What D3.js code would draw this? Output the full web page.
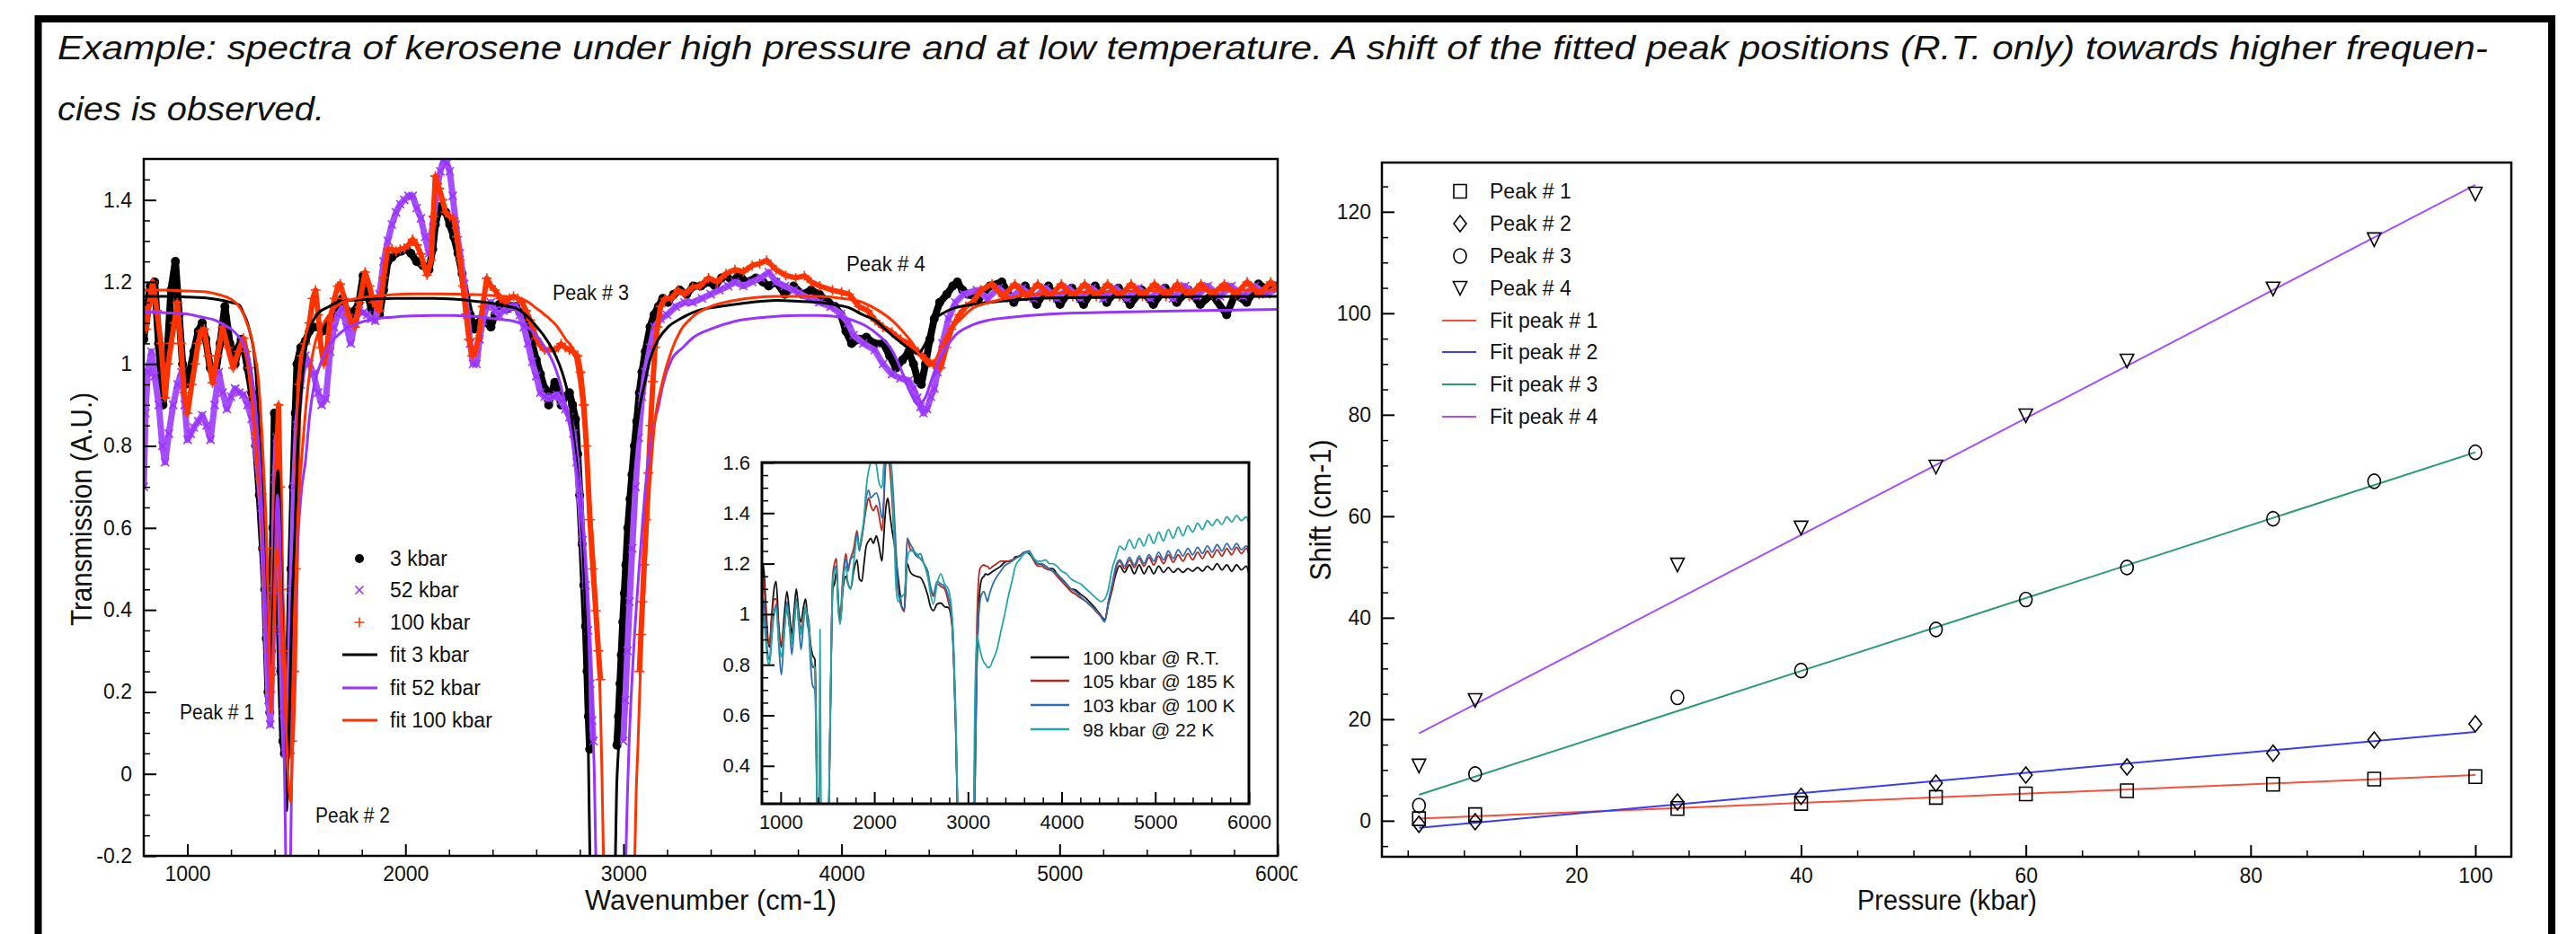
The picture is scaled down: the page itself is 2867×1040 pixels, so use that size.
<!DOCTYPE html>
<html><head><meta charset="utf-8">
<script src="https://cdn.jsdelivr.net/npm/d3@7"></script>
<style>
body{margin:0;background:#fff;}
svg text{font-family:"Liberation Sans",Arial,sans-serif;fill:#111;}
</style></head><body>
<svg id="c" width="2867" height="1040"></svg>
<script>
// ---------------- DATA ----------------
const titleLines = ["Example: spectra of kerosene under high pressure and at low temperature. A shift of the fitted peak positions (R.T. only) towards higher frequen-", "cies is observed."];

// Main spectrum: [wavenumber (cm-1), transmission (A.U.)]
const data3kbar = [[800,1.06],[812,1.12],[830,1.19],[850,1.20],[868,1.05],[888,0.90],[905,1.00],[925,1.18],[945,1.25],[962,1.12],[978,1.00],[992,0.95],[1010,0.98],[1030,1.03],[1050,1.08],[1068,1.10],[1085,1.06],[1105,0.99],[1125,0.96],[1150,1.05],[1172,1.14],[1195,1.05],[1219,1.00],[1235,1.04],[1247,1.06],[1262,1.03],[1276,0.99],[1295,0.93],[1314,0.80],[1330,0.68],[1345,0.55],[1355,0.45],[1362,0.33],[1370,0.20],[1378,0.15],[1385,0.30],[1392,0.60],[1399,0.88],[1408,0.70],[1418,0.45],[1428,0.25],[1438,0.08],[1445,0.05],[1455,0.10],[1465,0.25],[1475,0.50],[1485,0.70],[1495,0.88],[1503,1.00],[1520,1.04],[1541,1.056],[1560,1.08],[1578,1.09],[1600,1.09],[1620,1.08],[1635,1.085],[1655,1.11],[1673,1.13],[1690,1.15],[1711,1.16],[1730,1.13],[1749,1.11],[1768,1.13],[1787,1.15],[1806,1.215],[1825,1.17],[1844,1.135],[1862,1.125],[1881,1.12],[1900,1.18],[1919,1.25],[1938,1.26],[1957,1.27],[1980,1.275],[2004,1.28],[2025,1.27],[2051,1.25],[2080,1.24],[2108,1.23],[2125,1.28],[2137,1.34],[2150,1.37],[2165,1.385],[2185,1.37],[2203,1.34],[2222,1.31],[2241,1.27],[2260,1.22],[2278,1.165],[2297,1.12],[2316,1.085],[2335,1.10],[2354,1.115],[2373,1.10],[2392,1.09],[2410,1.12],[2430,1.145],[2450,1.14],[2468,1.135],[2487,1.14],[2506,1.14],[2525,1.125],[2543,1.105],[2562,1.08],[2581,1.05],[2600,1.01],[2619,0.975],[2638,0.94],[2657,0.90],[2670,0.93],[2685,0.955],[2700,0.93],[2714,0.90],[2733,0.92],[2752,0.93],[2766,0.90],[2780,0.865],[2790,0.78],[2799,0.68],[2810,0.56],[2818,0.46],[2826,0.36],[2833,0.25],[2839,0.14],[2845,0.06],null,[2970,0.07],[2977,0.14],[2984,0.22],[2990,0.29],[2997,0.37],[3004,0.44],[3011,0.51],[3020,0.60],[3030,0.67],[3039,0.73],[3050,0.80],[3061,0.86],[3073,0.93],[3085,0.98],[3100,1.03],[3122,1.09],[3140,1.12],[3160,1.14],[3180,1.16],[3204,1.15],[3230,1.17],[3258,1.18],[3290,1.17],[3320,1.19],[3356,1.19],[3390,1.20],[3420,1.19],[3450,1.21],[3472,1.215],[3500,1.20],[3530,1.22],[3560,1.20],[3608,1.21],[3640,1.20],[3666,1.19],[3700,1.20],[3740,1.17],[3780,1.19],[3820,1.17],[3860,1.18],[3898,1.17],[3940,1.15],[3970,1.14],[3997,1.12],[4020,1.08],[4046,1.05],[4080,1.06],[4114,1.065],[4150,1.05],[4192,1.05],[4220,1.02],[4250,0.99],[4280,1.01],[4308,1.03],[4330,1.00],[4350,0.96],[4366,0.95],[4385,1.00],[4405,1.06],[4425,1.11],[4450,1.15],[4483,1.17],[4510,1.19],[4531,1.20],[4555,1.18],[4580,1.17],[4630,1.16],[4680,1.19],[4735,1.20],[4790,1.15],[4842,1.19],[4895,1.145],[4949,1.19],[5002,1.145],[5056,1.185],[5110,1.145],[5163,1.19],[5216,1.15],[5270,1.185],[5323,1.145],[5377,1.18],[5430,1.145],[5484,1.185],[5537,1.15],[5591,1.18],[5645,1.145],[5698,1.17],[5766,1.12],[5805,1.17],[5858,1.15],[5912,1.195],[5960,1.18],[6000,1.19]];

const data52kbar = [[800,0.70],[808,0.88],[818,0.98],[835,1.03],[850,0.97],[869,0.90],[885,0.80],[898,0.76],[915,0.83],[935,0.90],[955,0.95],[973,0.98],[988,0.90],[1001,0.815],[1015,0.83],[1030,0.845],[1050,0.86],[1068,0.875],[1088,0.85],[1106,0.815],[1125,0.90],[1144,0.98],[1162,0.93],[1181,0.89],[1200,0.92],[1219,0.94],[1238,0.93],[1257,0.925],[1276,0.90],[1295,0.866],[1310,0.81],[1323,0.756],[1340,0.65],[1352,0.50],[1362,0.35],[1372,0.18],[1380,0.12],[1388,0.25],[1395,0.45],[1403,0.72],[1410,0.82],[1420,0.60],[1430,0.35],[1440,0.15],[1448,0.05],[1458,0.06],[1468,0.20],[1478,0.45],[1490,0.70],[1503,0.85],[1520,0.95],[1541,1.02],[1560,1.00],[1578,0.976],[1600,0.93],[1616,0.90],[1635,0.915],[1655,1.03],[1673,1.09],[1690,1.12],[1711,1.135],[1730,1.09],[1749,1.05],[1768,1.10],[1787,1.13],[1806,1.125],[1825,1.12],[1844,1.11],[1862,1.105],[1881,1.17],[1900,1.25],[1919,1.30],[1938,1.34],[1957,1.37],[1976,1.39],[1995,1.40],[2014,1.41],[2033,1.41],[2052,1.38],[2071,1.355],[2090,1.31],[2108,1.27],[2127,1.35],[2146,1.43],[2160,1.47],[2174,1.495],[2190,1.49],[2203,1.47],[2217,1.41],[2231,1.34],[2250,1.27],[2269,1.195],[2283,1.12],[2297,1.05],[2310,1.00],[2326,1.00],[2340,1.06],[2354,1.105],[2373,1.14],[2392,1.15],[2411,1.13],[2430,1.12],[2449,1.13],[2468,1.135],[2487,1.14],[2506,1.14],[2525,1.12],[2543,1.09],[2562,1.05],[2581,1.005],[2600,0.97],[2619,0.93],[2638,0.92],[2657,0.915],[2676,0.92],[2695,0.925],[2714,0.91],[2733,0.89],[2752,0.87],[2770,0.83],[2785,0.76],[2799,0.68],[2813,0.57],[2827,0.46],[2838,0.35],[2848,0.22],[2856,0.13],[2862,0.08],null,[2999,0.08],[3008,0.18],[3018,0.30],[3028,0.42],[3040,0.55],[3055,0.70],[3070,0.82],[3085,0.92],[3100,0.98],[3122,1.04],[3142,1.09],[3170,1.11],[3200,1.12],[3240,1.14],[3280,1.15],[3317,1.15],[3360,1.16],[3400,1.17],[3440,1.18],[3480,1.19],[3511,1.20],[3550,1.19],[3590,1.20],[3630,1.21],[3666,1.224],[3700,1.20],[3740,1.19],[3780,1.18],[3803,1.173],[3850,1.16],[3898,1.15],[3950,1.14],[3997,1.122],[4030,1.10],[4055,1.07],[4100,1.05],[4152,1.034],[4190,1.00],[4231,0.975],[4270,0.965],[4308,0.96],[4330,0.94],[4347,0.917],[4362,0.895],[4376,0.88],[4392,0.89],[4410,0.92],[4425,0.94],[4440,0.98],[4463,1.05],[4490,1.11],[4522,1.15],[4560,1.17],[4620,1.18],[4670,1.16],[4720,1.185],[4775,1.16],[4828,1.185],[4880,1.16],[4935,1.185],[4988,1.16],[5040,1.185],[5095,1.16],[5148,1.185],[5200,1.16],[5255,1.185],[5308,1.16],[5360,1.185],[5415,1.16],[5468,1.185],[5520,1.16],[5575,1.19],[5628,1.165],[5680,1.19],[5735,1.165],[5788,1.19],[5840,1.165],[5895,1.19],[5948,1.17],[6000,1.185]];

const data100kbar = [[800,1.14],[812,1.085],[826,1.15],[841,1.20],[860,1.13],[879,1.05],[898,0.917],[912,1.00],[926,1.05],[940,1.10],[954,1.15],[970,1.05],[985,0.93],[1001,0.88],[1020,0.95],[1035,1.00],[1049,1.05],[1063,1.08],[1077,1.085],[1096,1.02],[1115,0.954],[1138,1.02],[1162,1.09],[1185,1.04],[1210,0.99],[1233,1.03],[1257,1.063],[1271,1.03],[1285,0.99],[1300,0.92],[1314,0.83],[1330,0.72],[1342,0.683],[1352,0.55],[1362,0.42],[1372,0.30],[1380,0.20],[1390,0.35],[1400,0.55],[1410,0.75],[1418,0.90],[1425,0.70],[1432,0.45],[1440,0.30],[1450,0.15],[1460,0.08],[1470,0.05],[1480,0.08],[1490,0.25],[1498,0.50],[1505,0.75],[1512,0.95],[1525,1.02],[1541,1.049],[1560,1.10],[1575,1.16],[1588,1.18],[1600,1.12],[1613,1.04],[1626,1.00],[1640,1.04],[1654,1.107],[1675,1.16],[1690,1.19],[1701,1.195],[1720,1.16],[1739,1.12],[1754,1.10],[1768,1.09],[1790,1.15],[1815,1.224],[1835,1.19],[1853,1.15],[1868,1.14],[1881,1.13],[1900,1.21],[1919,1.28],[1938,1.28],[1957,1.275],[1976,1.28],[1995,1.282],[2014,1.29],[2033,1.304],[2052,1.29],[2071,1.268],[2085,1.24],[2099,1.217],[2118,1.253],[2128,1.36],[2137,1.458],[2146,1.44],[2155,1.428],[2170,1.40],[2184,1.37],[2203,1.36],[2222,1.355],[2236,1.31],[2250,1.253],[2264,1.19],[2278,1.122],[2292,1.06],[2307,1.02],[2320,1.03],[2335,1.063],[2354,1.14],[2373,1.209],[2392,1.19],[2411,1.18],[2435,1.16],[2458,1.151],[2477,1.16],[2496,1.165],[2515,1.16],[2534,1.151],[2553,1.13],[2572,1.107],[2586,1.085],[2600,1.063],[2619,1.045],[2638,1.034],[2660,1.035],[2685,1.034],[2700,1.04],[2714,1.049],[2733,1.04],[2752,1.034],[2770,1.03],[2789,1.02],[2803,0.98],[2818,0.90],[2830,0.80],[2846,0.62],[2860,0.50],[2873,0.398],[2885,0.30],[2894,0.23],null,[3073,0.25],[3080,0.34],[3087,0.42],[3094,0.51],[3104,0.62],[3114,0.734],[3124,0.85],[3135,0.957],[3145,1.04],[3156,1.09],[3170,1.14],[3190,1.159],[3220,1.16],[3250,1.18],[3280,1.17],[3317,1.187],[3350,1.19],[3390,1.21],[3430,1.20],[3470,1.22],[3511,1.23],[3550,1.225],[3590,1.24],[3625,1.245],[3657,1.253],[3700,1.23],[3744,1.216],[3790,1.21],[3830,1.215],[3861,1.20],[3900,1.19],[3958,1.18],[4000,1.175],[4035,1.17],[4080,1.14],[4120,1.13],[4154,1.106],[4190,1.09],[4231,1.077],[4270,1.06],[4308,1.05],[4350,1.03],[4385,1.012],[4420,1.00],[4455,0.99],[4480,1.04],[4503,1.085],[4540,1.12],[4570,1.14],[4600,1.15],[4640,1.18],[4690,1.195],[4740,1.165],[4795,1.195],[4848,1.165],[4900,1.195],[4955,1.165],[5008,1.195],[5060,1.165],[5115,1.195],[5168,1.165],[5220,1.195],[5275,1.165],[5328,1.195],[5380,1.165],[5435,1.195],[5488,1.165],[5540,1.195],[5595,1.165],[5648,1.195],[5700,1.17],[5755,1.195],[5808,1.17],[5860,1.20],[5915,1.17],[5968,1.20],[6000,1.185]];

const fit3kbar = [[800,1.165],[900,1.165],[1000,1.163],[1100,1.16],[1150,1.156],[1200,1.15],[1238,1.144],[1260,1.12],[1276,1.10],[1290,1.07],[1304,1.034],[1314,0.98],[1323,0.902],[1333,0.81],[1342,0.72],[1352,0.54],[1362,0.38],[1372,0.28],[1382,0.27],[1392,0.40],[1403,0.62],[1415,0.74],[1425,0.62],[1435,0.38],[1443,0.15],[1449,0.0],[1455,-0.09],[1461,0.0],[1468,0.15],[1478,0.38],[1493,0.58],[1505,0.78],[1520,0.92],[1541,1.03],[1560,1.08],[1597,1.122],[1650,1.14],[1692,1.151],[1770,1.156],[1844,1.158],[1950,1.16],[2033,1.16],[2130,1.16],[2222,1.158],[2320,1.153],[2411,1.147],[2470,1.14],[2506,1.136],[2550,1.12],[2600,1.092],[2640,1.065],[2676,1.034],[2705,1.0],[2733,0.954],[2755,0.9],[2770,0.83],[2785,0.76],[2799,0.683],[2812,0.58],[2825,0.40],[2834,0.22],[2839,0.05],[2843,-0.1],[2846,-0.2],[2850,-0.35],[2905,-1.0],[2960,-0.35],[2963,-0.2],[2968,-0.05],[2977,0.063],[2990,0.287],[3011,0.51],[3039,0.73],[3060,0.84],[3073,0.89],[3100,0.96],[3121,1.01],[3160,1.06],[3204,1.09],[3260,1.11],[3341,1.13],[3440,1.14],[3547,1.148],[3705,1.155],[3822,1.152],[3898,1.15],[3960,1.145],[4034,1.137],[4097,1.12],[4154,1.106],[4200,1.085],[4249,1.062],[4290,1.045],[4318,1.034],[4345,1.025],[4380,1.045],[4400,1.07],[4425,1.107],[4470,1.125],[4521,1.137],[4600,1.145],[4677,1.15],[4800,1.156],[4970,1.161],[5300,1.163],[5600,1.164],[6000,1.165]];

const fit52kbar = [[800,1.127],[900,1.125],[992,1.122],[1060,1.115],[1125,1.107],[1170,1.095],[1200,1.085],[1230,1.07],[1257,1.049],[1276,1.02],[1295,0.976],[1310,0.91],[1323,0.83],[1333,0.75],[1342,0.647],[1352,0.5],[1362,0.35],[1372,0.22],[1380,0.165],[1390,0.25],[1400,0.45],[1412,0.68],[1422,0.62],[1432,0.40],[1442,0.10],[1447,-0.05],[1452,-0.25],[1462,-0.6],[1472,-0.25],[1478,-0.02],[1488,0.25],[1497,0.43],[1507,0.57],[1525,0.70],[1541,0.76],[1560,0.87],[1578,0.939],[1610,1.00],[1654,1.049],[1700,1.075],[1749,1.092],[1840,1.108],[1938,1.114],[2030,1.117],[2127,1.118],[2220,1.118],[2316,1.116],[2410,1.11],[2506,1.103],[2560,1.09],[2600,1.07],[2640,1.04],[2676,1.005],[2700,0.97],[2733,0.902],[2764,0.82],[2780,0.756],[2795,0.70],[2805,0.64],[2820,0.56],[2832,0.44],[2845,0.30],[2853,0.22],[2860,0.1],[2866,0.006],[2873,-0.2],[2880,-0.4],[2940,-1.0],[3000,-0.4],[3011,-0.2],[3018,-0.05],[3025,0.063],[3045,0.287],[3073,0.51],[3107,0.734],[3135,0.84],[3162,0.9],[3181,0.95],[3220,1.01],[3272,1.04],[3317,1.063],[3400,1.085],[3511,1.104],[3650,1.114],[3803,1.118],[3900,1.118],[3997,1.114],[4060,1.105],[4114,1.092],[4170,1.07],[4231,1.034],[4270,0.99],[4308,0.939],[4330,0.915],[4347,0.902],[4365,0.905],[4386,0.92],[4415,0.965],[4444,1.005],[4480,1.04],[4522,1.07],[4600,1.095],[4677,1.107],[4800,1.115],[4970,1.122],[5300,1.127],[5600,1.13],[6000,1.133]];

const fit100kbar = [[800,1.18],[900,1.18],[1000,1.178],[1087,1.176],[1150,1.168],[1200,1.158],[1230,1.145],[1257,1.122],[1276,1.095],[1295,1.063],[1310,1.02],[1323,0.976],[1333,0.91],[1342,0.83],[1352,0.72],[1361,0.61],[1370,0.45],[1378,0.25],[1383,0.15],[1390,0.22],[1400,0.42],[1410,0.55],[1420,0.50],[1435,0.35],[1450,0.15],[1462,0.0],[1474,-0.07],[1485,0.15],[1495,0.40],[1503,0.574],[1512,0.68],[1522,0.756],[1541,0.88],[1560,0.976],[1590,1.06],[1616,1.092],[1650,1.12],[1692,1.144],[1760,1.158],[1844,1.165],[1940,1.169],[2033,1.171],[2150,1.171],[2316,1.169],[2420,1.166],[2506,1.162],[2560,1.152],[2600,1.136],[2650,1.115],[2695,1.092],[2735,1.06],[2770,1.034],[2791,0.98],[2810,0.90],[2827,0.80],[2846,0.66],[2866,0.51],[2877,0.40],[2887,0.287],[2895,0.15],[2901,0.006],[2908,-0.2],[2915,-0.4],[2980,-1.0],[3045,-0.4],[3052,-0.2],[3058,-0.05],[3066,0.063],[3080,0.287],[3101,0.51],[3120,0.70],[3142,0.85],[3176,0.95],[3219,1.03],[3260,1.08],[3317,1.115],[3400,1.14],[3511,1.155],[3705,1.165],[3900,1.165],[4000,1.16],[4096,1.15],[4170,1.13],[4232,1.106],[4280,1.08],[4327,1.049],[4360,1.02],[4385,1.005],[4403,0.995],[4420,1.00],[4440,1.02],[4463,1.05],[4500,1.085],[4541,1.106],[4600,1.135],[4677,1.15],[4800,1.165],[4970,1.172],[5300,1.177],[5600,1.18],[6000,1.18]];

const mainSeriesNames = ["3 kbar","52 kbar","100 kbar","fit 3 kbar","fit 52 kbar","fit 100 kbar"];
const mainXTicks = [1000,2000,3000,4000,5000,6000];
const mainYTicks = [-0.2,0,0.2,0.4,0.6,0.8,1,1.2,1.4];
const peakLabels = ["Peak # 1","Peak # 2","Peak # 3","Peak # 4"];

// Inset spectra (shared wavenumber grid)
const insetWn = [800,815,840,860,880,905,930,952,980,1007,1035,1067,1095,1119,1145,1167,1195,1218,1245,1266,1285,1300,1320,1340,1366,1385,1397,1410,1420,1430,1445,1500,1530,1556,1575,1596,1615,1636,1665,1696,1720,1747,1780,1815,1840,1867,1890,1914,1940,1962,1990,2022,2050,2082,2100,2114,2130,2145,2165,2190,2213,2233,2253,2275,2292,2320,2352,2380,2412,2450,2491,2530,2571,2600,2631,2670,2710,2750,2790,2830,2850,2870,2890,2920,3050,3076,3095,3108,3128,3148,3170,3190,3208,3230,3267,3310,3350,3387,3430,3470,3506,3550,3606,3650,3705,3745,3785,3830,3870,3904,3950,4000,4050,4100,4143,4200,4262,4320,4381,4420,4461,4500,4540,4580,4620,4672,4724,4776,4828,4880,4932,4984,5036,5088,5140,5192,5244,5296,5348,5400,5452,5504,5556,5608,5660,5712,5764,5816,5868,5920,5972,6000];
const insetRT   = [1.05,1.20,1.05,0.92,0.87,1.00,1.10,1.13,0.95,0.87,0.98,1.09,1.00,0.92,1.02,1.10,1.00,0.97,1.03,1.06,1.00,0.97,0.88,0.84,0.82,0.40,0.0,0.05,0.10,0.0,0.0,0.0,0.6,1.10,1.12,1.17,1.05,0.97,1.10,1.15,1.12,1.10,1.17,1.215,1.14,1.13,1.20,1.27,1.29,1.30,1.28,1.31,1.27,1.21,1.30,1.38,1.44,1.458,1.40,1.33,1.28,1.22,1.15,1.08,1.03,1.014,1.20,1.17,1.156,1.15,1.145,1.12,1.074,1.03,1.014,1.04,1.044,1.03,1.026,0.955,0.80,0.541,0.20,0.0,0.0,0.35,0.80,0.95,1.10,1.14,1.15,1.16,1.156,1.16,1.17,1.18,1.19,1.204,1.21,1.21,1.227,1.23,1.245,1.24,1.215,1.20,1.198,1.19,1.18,1.18,1.16,1.14,1.12,1.10,1.097,1.08,1.062,1.04,1.014,0.995,0.979,1.04,1.097,1.16,1.192,1.165,1.195,1.16,1.195,1.16,1.19,1.16,1.19,1.165,1.185,1.165,1.18,1.165,1.18,1.17,1.185,1.17,1.19,1.175,1.20,1.175,1.195,1.17,1.195,1.175,1.19,1.16];
const insetK185 = [1.00,1.15,1.00,0.90,0.88,0.98,1.06,1.06,0.95,0.88,0.95,1.02,0.95,0.90,0.98,1.05,0.98,0.94,1.00,1.02,0.98,0.96,0.85,0.79,0.79,0.35,0.0,0.05,0.10,0.0,0.0,0.0,0.6,1.15,1.20,1.22,1.05,1.00,1.15,1.24,1.18,1.22,1.26,1.33,1.26,1.30,1.36,1.42,1.46,1.43,1.41,1.43,1.39,1.33,1.42,1.55,1.62,1.63,1.58,1.45,1.30,1.18,1.10,1.05,1.03,1.01,1.30,1.26,1.25,1.23,1.22,1.20,1.15,1.10,1.07,1.12,1.11,1.10,1.05,0.97,0.80,0.55,0.20,0.0,0.0,0.50,0.95,1.10,1.18,1.19,1.195,1.19,1.19,1.18,1.19,1.20,1.21,1.21,1.21,1.215,1.22,1.23,1.245,1.245,1.21,1.19,1.19,1.18,1.175,1.17,1.15,1.13,1.11,1.09,1.08,1.065,1.05,1.03,1.005,0.99,0.975,1.05,1.10,1.18,1.21,1.18,1.215,1.185,1.22,1.19,1.225,1.195,1.23,1.20,1.235,1.205,1.235,1.21,1.24,1.215,1.245,1.22,1.25,1.225,1.255,1.23,1.26,1.235,1.265,1.24,1.26,1.235];
const insetK100 = [0.95,1.06,0.95,0.85,0.82,0.92,1.00,1.04,0.88,0.76,0.90,1.05,0.95,0.84,0.95,1.06,0.95,0.86,0.97,1.03,0.96,0.93,0.80,0.72,0.70,0.35,0.0,0.05,0.10,0.0,0.0,0.0,0.6,1.13,1.18,1.19,1.03,0.97,1.13,1.22,1.17,1.22,1.23,1.32,1.25,1.31,1.37,1.46,1.49,1.46,1.47,1.48,1.45,1.38,1.45,1.58,1.65,1.66,1.62,1.55,1.40,1.25,1.10,1.05,1.03,1.02,1.30,1.28,1.26,1.23,1.24,1.20,1.17,1.11,1.08,1.13,1.12,1.11,1.07,0.98,0.80,0.55,0.20,0.0,0.0,0.35,0.80,0.95,1.05,1.08,1.09,1.07,1.05,1.08,1.12,1.15,1.17,1.19,1.20,1.21,1.22,1.23,1.245,1.25,1.22,1.20,1.20,1.19,1.18,1.17,1.16,1.14,1.12,1.10,1.09,1.07,1.05,1.03,1.01,0.99,0.97,1.05,1.12,1.19,1.215,1.19,1.225,1.195,1.23,1.20,1.235,1.21,1.245,1.215,1.25,1.22,1.255,1.23,1.26,1.235,1.265,1.24,1.27,1.245,1.275,1.25,1.28,1.255,1.28,1.255,1.27,1.25];
const insetK22  = [0.92,1.00,0.90,0.82,0.80,0.90,1.02,1.02,0.90,0.83,0.92,1.03,0.95,0.88,0.97,1.05,0.97,0.92,0.99,1.03,0.98,0.96,0.85,0.80,0.79,0.30,0.0,0.2,0.94,0.3,0.0,0.0,0.6,1.13,1.17,1.18,1.02,0.96,1.12,1.19,1.12,1.10,1.20,1.30,1.27,1.32,1.38,1.50,1.57,1.60,1.62,1.59,1.52,1.50,1.58,1.65,1.70,1.70,1.66,1.50,1.30,1.10,1.05,1.06,1.07,1.08,1.22,1.25,1.25,1.24,1.22,1.20,1.15,1.08,1.04,1.12,1.16,1.12,1.10,1.00,0.85,0.60,0.25,0.0,0.0,0.70,0.92,0.90,0.86,0.83,0.81,0.80,0.79,0.79,0.82,0.86,0.93,0.99,1.07,1.13,1.19,1.215,1.24,1.245,1.22,1.21,1.21,1.215,1.20,1.20,1.19,1.17,1.16,1.14,1.13,1.12,1.10,1.08,1.06,1.05,1.06,1.10,1.18,1.227,1.269,1.255,1.295,1.26,1.30,1.27,1.315,1.28,1.325,1.29,1.335,1.30,1.345,1.31,1.35,1.325,1.36,1.335,1.37,1.35,1.375,1.355,1.385,1.365,1.39,1.37,1.385,1.36];
const insetNames = ["100 kbar @ R.T.","105 kbar @ 185 K","103 kbar @ 100 K","98 kbar @ 22 K"];
const insetXTicks = [1000,2000,3000,4000,5000,6000];
const insetYTicks = [0.4,0.6,0.8,1,1.2,1.4,1.6];

// Right chart: shift vs pressure
const pressure = [6,11,29,40,52,60,69,82,91,100];
const peak1 = [0.4,1.2,2.4,3.4,4.6,5.3,5.9,7.2,8.2,8.7];
const peak2 = [-0.7,-0.2,3.7,4.8,7.4,9.0,10.6,13.3,15.9,19.1];
const peak3 = [3.0,9.2,24.3,29.6,37.7,43.6,49.9,59.5,66.9,72.6];
const peak4 = [10.8,23.7,50.4,57.7,69.7,79.8,90.6,104.8,114.5,123.5];
const fitPressure = [6,100];
const fitPeak1 = [0.4,9.0];
const fitPeak2 = [-1.4,17.5];
const fitPeak3 = [5.1,72.6];
const fitPeak4 = [17.2,125.3];
const rightNames = ["Peak # 1","Peak # 2","Peak # 3","Peak # 4","Fit peak # 1","Fit peak # 2","Fit peak # 3","Fit peak # 4"];
const rightXTicks = [20,40,60,80,100];
const rightYTicks = [0,20,40,60,80,100,120];

// ---------------- DRAWING ----------------
const svg = d3.select("#c");
const FONT = '"Liberation Sans",Arial,sans-serif';
const C = {black:"#000", purple:"#9933ff", red:"#ff3300", rBlack:"#111", rRed:"#b5281c", rBlue:"#2f6db5", rTeal:"#22a6a6",
  f1:"#f4503c", f2:"#3c3cf5", f3:"#2a9d6e", f4:"#a64dff"};

function txt(g, s, x, y, size, opt={}) {
  const t = g.append("text").attr("x",x).attr("y",y).attr("font-size",size).text(s);
  if (opt.anchor) t.attr("text-anchor",opt.anchor);
  if (opt.italic) t.attr("font-style","italic");
  if (opt.len) t.attr("textLength",opt.len).attr("lengthAdjust","spacingAndGlyphs");
  if (opt.rot) t.attr("transform",`rotate(-90,${x},${y})`);
  return t;
}

// outer frame
svg.append("path").attr("d","M42.5,1045V21H2840V1045").attr("fill","none").attr("stroke","#000").attr("stroke-width",8);
txt(svg, titleLines[0], 64, 66, 37, {italic:true, len:2705});
txt(svg, titleLines[1], 64, 134, 37, {italic:true, len:297});

function styleAxis(g, size, sw) {
  g.select(".domain").remove();
  g.selectAll(".tick line").attr("stroke","#000").attr("stroke-width",sw);
  g.selectAll("text").attr("font-size",size).attr("font-family",FONT).attr("fill","#111");
}
const fmt1 = d => String(+d.toFixed(2));
function minorRange(a,b,step,majors){const r=[];for(let v=a;v<=b+1e-9;v+=step){const vv=+v.toFixed(4);if(!majors.some(m=>Math.abs(m-vv)<1e-6))r.push(vv);}return r;}

// ===== Main (left) chart =====
const xM = d3.scaleLinear().domain([800,6000]).range([160,1422]);
const yM = d3.scaleLinear().domain([-0.2,1.5]).range([953,177]);
const defs = svg.append("defs");
defs.append("clipPath").attr("id","clipM").append("rect").attr("x",160).attr("y",177).attr("width",1262).attr("height",776);
defs.append("clipPath").attr("id","clipI").append("rect").attr("x",848).attr("y",515).attr("width",542).attr("height",380);
defs.append("clipPath").attr("id","clipMX").append("rect").attr("x",0).attr("y",-50).attr("width",1444).attr("height",120);

const gM = svg.append("g").attr("clip-path","url(#clipM)");
const lineM = d3.line().defined(d=>d).x(d=>xM(d[0])).y(d=>yM(d[1]));
// data bands + markers
gM.append("path").datum(data3kbar).attr("d",lineM).attr("fill","none").attr("stroke",C.black).attr("stroke-width",8).attr("stroke-linejoin","round");
gM.append("g").selectAll("circle").data(data3kbar.filter(d=>d)).join("circle").attr("cx",d=>xM(d[0])).attr("cy",d=>yM(d[1])).attr("r",5).attr("fill",C.black);
gM.append("path").datum(data52kbar).attr("d",lineM).attr("fill","none").attr("stroke","#a64dff").attr("stroke-width",7).attr("stroke-linejoin","round");
gM.append("g").selectAll("path").data(data52kbar.filter(d=>d)).join("path").attr("d","M-4.5,-4.5L4.5,4.5M-4.5,4.5L4.5,-4.5").attr("transform",d=>`translate(${xM(d[0])},${yM(d[1])})`).attr("stroke",C.purple).attr("stroke-width",1.6).attr("fill","none");
gM.append("path").datum(data100kbar).attr("d",lineM).attr("fill","none").attr("stroke",C.red).attr("stroke-width",6).attr("stroke-linejoin","round");
gM.append("g").selectAll("path").data(data100kbar.filter(d=>d)).join("path").attr("d","M-5.5,0H5.5M0,-5.5V5.5").attr("transform",d=>`translate(${xM(d[0])},${yM(d[1])})`).attr("stroke",C.red).attr("stroke-width",1.6).attr("fill","none");
// fits
[[fit3kbar,C.black],[fit52kbar,C.purple],[fit100kbar,C.red]].forEach(([d,c])=>{
  gM.append("path").datum(d).attr("d",lineM.curve(d3.curveMonotoneX)).attr("fill","none").attr("stroke",c).attr("stroke-width",3);
});
lineM.curve(d3.curveLinear);

// frame
svg.append("rect").attr("x",160).attr("y",177).attr("width",1262).attr("height",776).attr("fill","none").attr("stroke","#000").attr("stroke-width",2.5);
// axes
const axMX = svg.append("g").attr("transform","translate(0,953)").attr("clip-path","url(#clipMX)")
  .call(d3.axisBottom(xM).tickValues(mainXTicks).tickSize(-13).tickPadding(12).tickFormat(d3.format("d")));
styleAxis(axMX,23,2);
const axMXm = svg.append("g").attr("transform","translate(0,953)").call(d3.axisBottom(xM).tickValues(minorRange(1000,5800,200,mainXTicks)).tickSize(-7).tickFormat(""));
styleAxis(axMXm,22,1.5);
const axMY = svg.append("g").attr("transform","translate(160,0)").call(d3.axisLeft(yM).tickValues(mainYTicks).tickSize(-14).tickPadding(13).tickFormat(fmt1));
styleAxis(axMY,23,2);
const axMYm = svg.append("g").attr("transform","translate(160,0)").call(d3.axisLeft(yM).tickValues(minorRange(-0.15,1.45,0.05,mainYTicks)).tickSize(-7).tickFormat(""));
styleAxis(axMYm,22,1.5);
txt(svg,"Wavenumber (cm-1)",791,1013,31,{anchor:"middle",len:280});
txt(svg,"Transmission (A.U.)",102,567,33,{anchor:"middle",len:260,rot:true});

// peak labels
txt(svg,peakLabels[0],200,801,24,{len:83});
txt(svg,peakLabels[1],351,916,24,{len:83});
txt(svg,peakLabels[2],615,334,24,{len:85});
txt(svg,peakLabels[3],942,302,24,{len:88});

// main legend
const lgM = svg.append("g");
const lgRows = [622,657,693,729,766,802];
lgM.append("circle").attr("cx",400).attr("cy",lgRows[0]).attr("r",5).attr("fill",C.black);
lgM.append("path").attr("d","M-4.5,-4.5L4.5,4.5M-4.5,4.5L4.5,-4.5").attr("transform",`translate(400,${lgRows[1]})`).attr("stroke",C.purple).attr("stroke-width",1.6);
lgM.append("path").attr("d","M-5.5,0H5.5M0,-5.5V5.5").attr("transform",`translate(400,${lgRows[2]})`).attr("stroke",C.red).attr("stroke-width",1.6);
[C.black,C.purple,C.red].forEach((c,i)=>lgM.append("line").attr("x1",381).attr("x2",420).attr("y1",lgRows[3+i]).attr("y2",lgRows[3+i]).attr("stroke",c).attr("stroke-width",3));
mainSeriesNames.forEach((n,i)=>txt(lgM,n,434,lgRows[i]+8,23));

// ===== Inset =====
const xI = d3.scaleLinear().domain([800,6000]).range([848,1390]);
const yI = d3.scaleLinear().domain([0.25,1.6]).range([895,515]);
svg.append("rect").attr("x",848).attr("y",515).attr("width",542).attr("height",380).attr("fill","#fff");
const gI = svg.append("g").attr("clip-path","url(#clipI)");
const insetSeries = [[insetRT,C.rBlack],[insetK185,C.rRed],[insetK100,C.rBlue],[insetK22,C.rTeal]];
const lineI = d3.line().x(d=>xI(d[0])).y(d=>yI(d[1])).curve(d3.curveMonotoneX);
insetSeries.forEach(([vals,c])=>{
  gI.append("path").datum(insetWn.map((w,i)=>[w,vals[i]])).attr("d",lineI).attr("fill","none").attr("stroke",c).attr("stroke-width",1.8);
});
svg.append("rect").attr("x",848).attr("y",515).attr("width",542).attr("height",380).attr("fill","none").attr("stroke","#000").attr("stroke-width",3);
const axIX = svg.append("g").attr("transform","translate(0,895)").call(d3.axisBottom(xI).tickValues(insetXTicks).tickSize(-13).tickPadding(12).tickFormat(d3.format("d")));
styleAxis(axIX,22,2);
const axIXm = svg.append("g").attr("transform","translate(0,895)").call(d3.axisBottom(xI).tickValues(minorRange(1000,5800,200,insetXTicks)).tickSize(-7).tickFormat(""));
styleAxis(axIXm,21,1.5);
const axIY = svg.append("g").attr("transform","translate(848,0)").call(d3.axisLeft(yI).tickValues(insetYTicks).tickSize(-14).tickPadding(13).tickFormat(fmt1));
styleAxis(axIY,22,2);
const axIYm = svg.append("g").attr("transform","translate(848,0)").call(d3.axisLeft(yI).tickValues(minorRange(0.3,1.55,0.05,insetYTicks)).tickSize(-7).tickFormat(""));
styleAxis(axIYm,21,1.5);
const inRows = [732,758,785,812];
insetSeries.forEach(([v,c],i)=>{
  svg.append("line").attr("x1",1147).attr("x2",1190).attr("y1",inRows[i]).attr("y2",inRows[i]).attr("stroke",c).attr("stroke-width",2.5);
  txt(svg,insetNames[i],1205,inRows[i]+7.5,21);
});

// ===== Right chart =====
const xR = d3.scaleLinear().domain([2.7,103.2]).range([1538,2795]);
const yR = d3.scaleLinear().domain([-7.1,129.7]).range([954,181]);
svg.append("rect").attr("x",1538).attr("y",181).attr("width",1257).attr("height",773).attr("fill","none").attr("stroke","#000").attr("stroke-width",2.5);
const axRX = svg.append("g").attr("transform","translate(0,954)").call(d3.axisBottom(xR).tickValues(rightXTicks).tickSize(-13).tickPadding(13).tickFormat(d3.format("d")));
styleAxis(axRX,23,2);
const axRXm = svg.append("g").attr("transform","translate(0,954)").call(d3.axisBottom(xR).tickValues(minorRange(5,95,5,rightXTicks)).tickSize(-7).tickFormat(""));
styleAxis(axRXm,22,1.5);
const axRY = svg.append("g").attr("transform","translate(1538,0)").call(d3.axisLeft(yR).tickValues(rightYTicks).tickSize(-14).tickPadding(12).tickFormat(d3.format("d")));
styleAxis(axRY,23,2);
const axRYm = svg.append("g").attr("transform","translate(1538,0)").call(d3.axisLeft(yR).tickValues(minorRange(-5,125,5,rightYTicks)).tickSize(-7).tickFormat(""));
styleAxis(axRYm,22,1.5);
txt(svg,"Pressure (kbar)",2167,1013,31,{anchor:"middle",len:200});
txt(svg,"Shift (cm-1)",1481,568,33,{anchor:"middle",len:157,rot:true});

const fitsR = [[fitPeak1,C.f1],[fitPeak2,C.f2],[fitPeak3,C.f3],[fitPeak4,C.f4]];
const lineR = d3.line().x(d=>xR(d[0])).y(d=>yR(d[1]));
fitsR.forEach(([v,c])=>svg.append("path").datum(fitPressure.map((p,i)=>[p,v[i]])).attr("d",lineR).attr("fill","none").attr("stroke",c).attr("stroke-width",2));

const shapes = [
  "M-7,-7.5H7V7.5H-7Z",
  "M0,-9L7,0L0,9L-7,0Z",
  "M-7,0A7,8 0 1,0 7,0A7,8 0 1,0 -7,0Z",
  "M-7.5,-7.5H7.5L0,7.5Z"
];
const peaksR = [peak1,peak2,peak3,peak4];
peaksR.forEach((vals,k)=>{
  svg.append("g").selectAll("path").data(pressure.map((p,i)=>[p,vals[i]])).join("path")
    .attr("d",shapes[k]).attr("transform",d=>`translate(${xR(d[0])},${yR(d[1])})`)
    .attr("fill","none").attr("stroke","#000").attr("stroke-width",1.6);
});
// right legend
const rRows = [213,249,285,321,357,392,428,464];
shapes.forEach((s,i)=>svg.append("path").attr("d",s).attr("transform",`translate(1625,${rRows[i]})`).attr("fill","none").attr("stroke","#000").attr("stroke-width",1.6));
fitsR.forEach(([v,c],i)=>svg.append("line").attr("x1",1605).attr("x2",1643).attr("y1",rRows[4+i]).attr("y2",rRows[4+i]).attr("stroke",c).attr("stroke-width",2));
rightNames.forEach((n,i)=>txt(svg,n,1658,rRows[i]+8,23));
</script>
</body></html>
